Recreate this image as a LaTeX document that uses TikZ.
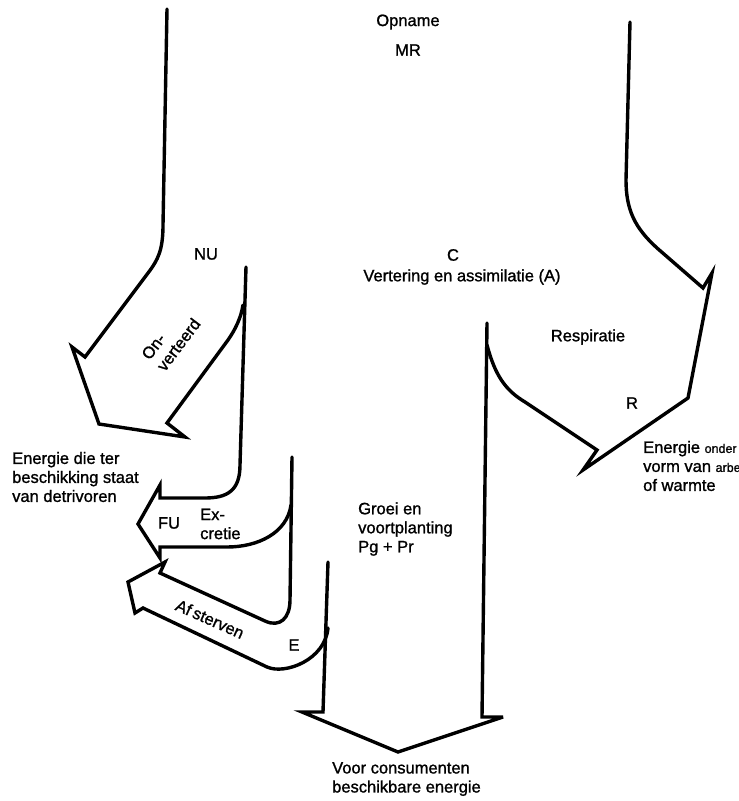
\documentclass[tikz,border=0pt]{standalone}
\usepackage{fontspec}
\setmainfont{Liberation Sans}[BoldFont=Liberation Sans, BoldFeatures={FakeBold=1.2}]
\begin{document}
\begin{tikzpicture}[x=1pt,y=-1pt]
\tikzset{
  flow/.style={draw=black, line width=3.4pt, line join=miter, miter limit=6, line cap=round},
  lbl/.style={font=\fontsize{16.5}{19}\selectfont\bfseries, inner sep=0pt, text=black},
  ml/.style={lbl, align=left}
}
\useasboundingbox (0,0) rectangle (739,801);
\begin{scope}
\clip (0,0) rectangle (739,801);
% outer left line and Onverteerd arrow
\draw[flow] (167,9) -- (163,225) .. controls (163,250) and (158,260) .. (148,273)
  -- (85,357) -- (72,347) -- (99,424) -- (185,437) -- (167,423) -- (228,340)
  .. controls (235,330) and (241,318) .. (243,305);
% NU vertical and FU arrow top
\draw[flow] (246,267) -- (240,465) .. controls (240,490) and (228,498) .. (205,498)
  -- (160,498) -- (160,485) -- (138,524) -- (160,558) -- (160,547) -- (227,547)
  .. controls (258,547) and (287,533) .. (291,505);
% excretie vertical and Afsterven arrow
\draw[flow] (292,457) -- (290,600) .. controls (290,618) and (280,628) .. (265,621)
  -- (160,573) -- (165,562) -- (128,582) -- (135,613) -- (143,608) -- (267,667)
  .. controls (285,675) and (325,660) .. (328,628);
% E vertical, consumers arrow, growth vertical
\draw[flow] (328,562) -- (323,712) -- (302,712) -- (398,752) -- (503,717)
  -- (482,717) -- (487,323);
% respiration arrow and outer right line
\draw[flow] (487,345) .. controls (495,375) and (505,390) .. (525,402)
  -- (597,450) -- (583,470) -- (688,398) -- (712,273) -- (703,288) -- (657,248)
  .. controls (635,228) and (626,210) .. (626,180) -- (630,22);
% labels
\node[lbl] (opname) at (408,22) {Opname};
\node[lbl] (mr) at (408,50) {MR};
\node[lbl] (nu) at (206,254) {NU};
\node[lbl] (c) at (453,255) {C};
\node[lbl] (vert) at (462,277) {Vertering en assimilatie (A)};
\node[ml, rotate=53] (onv) at (171,339) {On-\\verteerd};
\node[lbl] (resp) at (588,337) {Respiratie};
\node[lbl] (r) at (632,403) {R};
\node[ml, anchor=west] (eow) at (643,466) {Energie {\fontsize{12.5}{19}\selectfont onder}\\vorm van {\fontsize{12.5}{19}\selectfont arbeid}\\of warmte};
\node[ml, anchor=west] (det) at (12,477) {Energie die ter\\beschikking staat\\van detrivoren};
\node[lbl] (fu) at (169,523) {FU};
\node[ml, anchor=west] (excr) at (200,524) {Ex-\\cretie};
\node[lbl, rotate=-24] (afst) at (210,619) {Af\kern3pt sterven};
\node[lbl] (e) at (294,645) {E};
\node[ml, anchor=west] (groei) at (358,529) {Groei en\\voortplanting\\Pg + Pr};
\node[ml, anchor=west] (cons) at (332,779) {Voor consumenten\\beschikbare energie};
\end{scope}
\end{tikzpicture}
\end{document}
